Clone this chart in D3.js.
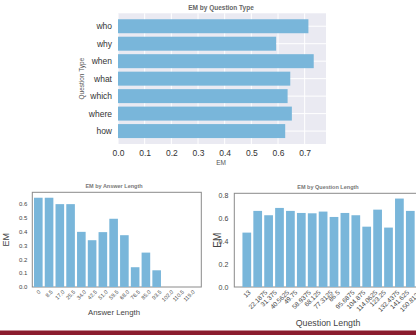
<!DOCTYPE html>
<html><head><meta charset="utf-8">
<script src="https://cdn.jsdelivr.net/npm/d3@7"></script>
<style>html,body{margin:0;padding:0;background:#fff;}svg{display:block;font-family:"Liberation Sans",Arial,sans-serif;}</style>
</head><body>
<svg id="c" width="416" height="335"></svg>
<script>
// ---- data ----
const qTypes = ["who","why","when","what","which","where","how"];
const qTypeEM = [0.714,0.593,0.734,0.646,0.636,0.652,0.627];
const qTypeTicks = [0,0.1,0.2,0.3,0.4,0.5,0.6,0.7];

const ansLen = ["0","8.5","17.0","25.5","34.0","42.5","51.0","59.5","68.0","76.5","85.0","93.5","102.0","110.5","119.0"];
const ansEM = [0.641,0.641,0.595,0.595,0.396,0.336,0.394,0.490,0.372,0.142,0.247,0.120,0,0,0];
const ansTicks = [0,0.1,0.2,0.3,0.4,0.5,0.6];

const qLen = ["13","22.1875","31.375","40.5625","49.75","58.9375","68.125","77.3125","86.5","95.6875","104.875","114.0625","123.25","132.4375","141.625","150.8125"];
const qLenEM = [0.476,0.666,0.628,0.692,0.666,0.648,0.645,0.660,0.613,0.648,0.628,0.528,0.677,0.520,0.774,0.666];
const qLenTicks = [0,0.2,0.4,0.6,0.8];

const BAR = "#79b6da";
const svg = d3.select("#c");

// ---- top chart: EM by Question Type ----
{
  const L=118, R=326, T=13.3, B=144;
  const x = d3.scaleLinear().domain([0,0.78]).range([L,R]);
  const y = d3.scaleLinear().domain([-0.74,6.74]).range([T,B]);
  const g = svg.append("g");
  g.append("rect").attr("x",L).attr("y",T).attr("width",R-L).attr("height",B-T).attr("fill","#eaeaf2");
  g.selectAll(".vg").data(qTypeTicks).join("line").attr("x1",d=>x(d)).attr("x2",d=>x(d))
    .attr("y1",T).attr("y2",B).attr("stroke","#fff").attr("stroke-width",1);
  g.selectAll(".hg").data(qTypes).join("line").attr("x1",L).attr("x2",R)
    .attr("y1",(d,i)=>y(i)).attr("y2",(d,i)=>y(i)).attr("stroke","#fff").attr("stroke-width",1);
  const bh = y(0.4)-y(-0.4);
  g.selectAll(".bar").data(qTypeEM).join("rect")
    .attr("x",x(0)).attr("y",(d,i)=>y(i)-bh/2).attr("width",d=>x(d)-x(0)).attr("height",bh)
    .attr("fill",BAR);
  const ax = d3.axisBottom(x).tickValues(qTypeTicks).tickFormat(d3.format(".1f")).tickSize(0).tickPadding(6);
  const ga = g.append("g").attr("transform",`translate(0,${B})`).call(ax);
  ga.select(".domain").remove();
  ga.selectAll("text").attr("font-size",8.5).attr("fill","#333").attr("font-family","Liberation Sans, Arial, sans-serif");
  const ay = d3.axisLeft(y).tickValues(d3.range(qTypes.length)).tickFormat(i=>qTypes[i]).tickSize(0).tickPadding(6);
  const gy = g.append("g").attr("transform",`translate(${L},0)`).call(ay);
  gy.select(".domain").remove();
  gy.selectAll("text").attr("font-size",8.5).attr("fill","#333").attr("font-family","Liberation Sans, Arial, sans-serif");
  g.append("text").attr("x",221).attr("y",9.5).attr("text-anchor","middle").attr("font-size",6.5)
    .attr("font-weight","bold").attr("fill","#666").text("EM by Question Type");
  g.append("text").attr("x",221).attr("y",165).attr("text-anchor","middle").attr("font-size",6.5)
    .attr("fill","#555").text("EM");
  g.append("text").attr("transform",`translate(84,${(T+B)/2-0}) rotate(-90)`).attr("text-anchor","middle")
    .attr("font-size",6.5).attr("fill","#555").text("Question Type");
}

// ---- generic bottom chart ----
function bottomChart(o){
  const g = svg.append("g");
  const y = d3.scaleLinear().domain([0,o.ymax]).range([o.B,o.T]);
  const x = d3.scaleLinear().domain([0,1]).range([o.c0,o.c0+o.step]);
  g.append("rect").attr("x",o.L).attr("y",o.T).attr("width",o.R-o.L).attr("height",o.B-o.T)
    .attr("fill","#fff").attr("stroke","#8a8a8a").attr("stroke-width",1);
  const bw = o.step*0.8;
  g.selectAll(".bar").data(o.values).join("rect")
    .attr("x",(d,i)=>x(i)-bw/2).attr("y",d=>y(d)).attr("width",bw).attr("height",d=>y(0)-y(d))
    .attr("fill",BAR);
  const ay = d3.axisLeft(y).tickValues(o.yticks).tickFormat(d3.format(".1f")).tickSize(0).tickPadding(o.ypad);
  const gy = g.append("g").attr("transform",`translate(${o.L},0)`).call(ay);
  gy.select(".domain").remove();
  gy.selectAll("text").attr("font-size",o.yfs).attr("fill","#444").attr("font-family","Liberation Sans, Arial, sans-serif");
  // rotated category labels
  const lab = g.append("g");
  o.cats.forEach((c,i)=>{
    const t = lab.append("text").attr("text-anchor","middle").attr("dominant-baseline","central")
      .attr("font-size",o.xfs).attr("fill","#444").text(c);
    const w = t.node().getComputedTextLength();
    const h = o.xfs*0.75;
    const half = (w+h)*Math.SQRT1_2/2;
    t.attr("transform",`translate(${x(i)},${o.B+o.xpad+half}) rotate(-45)`);
  });
  g.append("text").attr("x",o.tx).attr("y",o.T-4).attr("text-anchor","middle").attr("font-size",5.5)
    .attr("font-weight","bold").attr("fill","#777").text(o.title);
  g.append("text").attr("x",o.tx).attr("y",o.xly).attr("text-anchor","middle").attr("font-size",o.xlfs)
    .attr("fill","#444").text(o.xlabel);
  g.append("text").attr("transform",`translate(${o.ylx},${(o.T+o.B)/2}) rotate(-90)`).attr("text-anchor","middle")
    .attr("dominant-baseline","central").attr("font-size",o.ylfs).attr("fill","#444").text("EM");
}

bottomChart({L:32.3,R:201.3,T:192.3,B:287,ymax:0.68,c0:38.3,step:10.76,values:ansEM,cats:ansLen,
  yticks:ansTicks,ypad:5,yfs:6,xfs:5.5,xpad:2.5,title:"EM by Answer Length",tx:114,
  xlabel:"Answer Length",xly:315,xlfs:7.8,ylx:6,ylfs:9});
bottomChart({L:234.3,R:424,T:193.3,B:287,ymax:0.82,c0:246.8,step:10.9,values:qLenEM,cats:qLen,
  yticks:qLenTicks,ypad:6,yfs:7,xfs:6.5,xpad:2.5,title:"EM by Question Length",tx:328,
  xlabel:"Question Length",xly:325.5,xlfs:8.8,ylx:217,ylfs:10});

// bottom strip
svg.append("rect").attr("x",0).attr("y",330.5).attr("width",416).attr("height",5).attr("fill","#8b1c2e");
</script>
</body></html>
